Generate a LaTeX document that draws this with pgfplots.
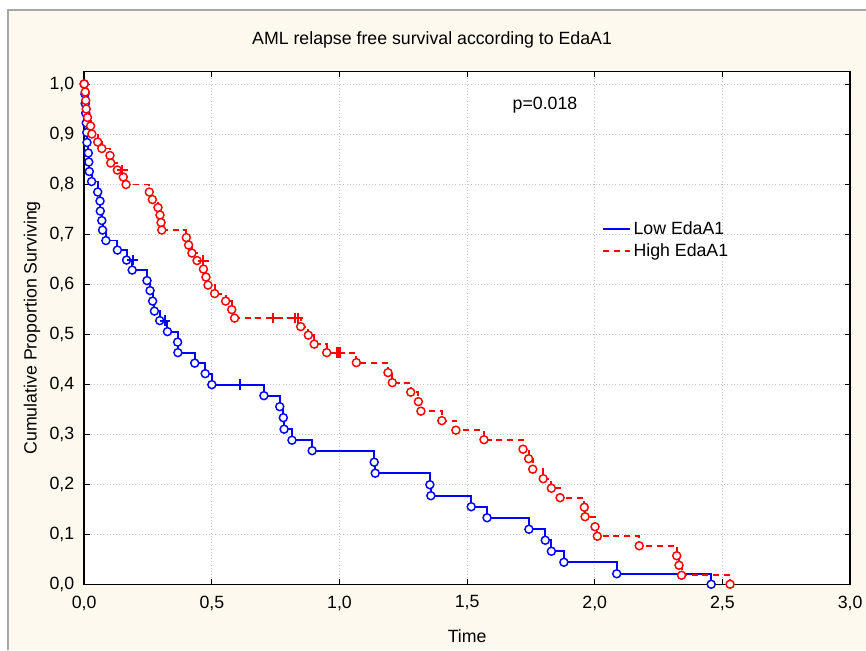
\documentclass[border=0pt]{standalone}
\usepackage{pgfplots}
\pgfplotsset{compat=1.18}
\usepackage{pgfplotstable}
\usepackage{fontspec}
\setmainfont{Liberation Sans}

\definecolor{bgcream}{RGB}{253,249,238}
\definecolor{gridgray}{RGB}{195,195,195}
\definecolor{kmblue}{RGB}{0,0,255}
\definecolor{kmred}{RGB}{255,0,0}
\newcommand\fs{\fontsize{13.3}{15}\selectfont}

% Low EdaA1: event times and survival after each event
\pgfplotstableread{
t s
0.000 1.000
0.003 0.980
0.004 0.961
0.006 0.942
0.008 0.922
0.010 0.903
0.011 0.883
0.016 0.862
0.018 0.844
0.020 0.825
0.029 0.805
0.053 0.784
0.062 0.766
0.063 0.746
0.069 0.727
0.072 0.708
0.085 0.687
0.130 0.668
0.166 0.648
0.188 0.628
0.246 0.607
0.258 0.587
0.268 0.566
0.275 0.546
0.296 0.527
0.326 0.505
0.366 0.484
0.367 0.463
0.433 0.442
0.474 0.421
0.500 0.399
0.704 0.377
0.766 0.355
0.780 0.333
0.783 0.310
0.814 0.288
0.893 0.267
1.136 0.244
1.140 0.222
1.354 0.199
1.358 0.177
1.516 0.155
1.578 0.133
1.742 0.110
1.806 0.088
1.830 0.066
1.879 0.044
2.086 0.021
2.456 0.000
}\lowtab

\pgfplotstableread{
t s
0.190 0.648
0.316 0.527
0.610 0.399
}\lowcens

% High EdaA1
\pgfplotstableread{
t s
0.000 1.000
0.004 0.984
0.006 0.967
0.008 0.950
0.013 0.933
0.025 0.916
0.030 0.900
0.053 0.884
0.069 0.871
0.101 0.857
0.104 0.842
0.130 0.828
0.153 0.814
0.164 0.799
0.255 0.784
0.267 0.769
0.289 0.753
0.297 0.738
0.301 0.723
0.304 0.708
0.400 0.693
0.409 0.678
0.422 0.662
0.442 0.647
0.467 0.630
0.477 0.614
0.485 0.598
0.511 0.581
0.554 0.566
0.578 0.549
0.589 0.532
0.848 0.515
0.878 0.498
0.901 0.480
0.950 0.463
1.066 0.443
1.190 0.423
1.207 0.403
1.279 0.384
1.309 0.365
1.319 0.346
1.401 0.327
1.456 0.308
1.566 0.289
1.719 0.270
1.741 0.251
1.757 0.230
1.798 0.211
1.830 0.192
1.864 0.173
1.959 0.154
1.962 0.135
2.001 0.115
2.010 0.096
2.174 0.077
2.321 0.057
2.330 0.038
2.340 0.018
2.530 0.000
}\hightab

\pgfplotstableread{
t s
0.149 0.828
0.467 0.647
0.738 0.532
0.826 0.532
0.836 0.532
0.990 0.463
1.000 0.463
}\highcens

\begin{document}
\begin{tikzpicture}
\fill[white] (-63.15pt,-49.3pt) rectangle (586.35pt,438.2pt);
\path[use as bounding box] (-63.15pt,-49.3pt) rectangle (586.35pt,438.2pt);
\fill[bgcream] (-57.15pt,-49.3pt) rectangle (586.35pt,430.7pt);
\draw[gray!70, line width=0.8pt] (-57.15pt,-49.3pt) -- (-57.15pt,430.7pt) -- (586.35pt,430.7pt);

\begin{axis}[
  at={(0,0)}, anchor=south west,
  scale only axis,
  width=574.4pt, height=384.6pt,
  xmin=0, xmax=3, ymin=0, ymax=1.025,
  xtick={0,0.5,...,3}, ytick={0,0.1,...,1.0},
  axis background/.style={fill=white},
  axis line style={black, line width=1.1pt},
  tick style={black, line width=0.7pt},
  major tick length=4pt,
  grid=major,
  grid style={gridgray, dotted, line width=0.6pt},
  /pgf/number format/.cd, use comma, fixed, fixed zerofill, precision=1, assume math mode=true,
  /pgfplots/.cd,
  tick label style={font=\fs},
  xticklabel style={yshift=-5pt},
  yticklabel style={xshift=-4pt},
  xlabel={Time}, ylabel={Cumulative Proportion Surviving},
  label style={font=\fs},
  xlabel style={yshift=-8pt},
  ylabel style={yshift=0pt},
  legend style={at={(rel axis cs:0.671,0.718)}, anchor=north west,
    draw=none, fill=none, font=\fs, row sep=1pt},
  legend cell align=left,
  legend image code/.code={\draw[#1] (0pt,0pt) -- (20pt,0pt);},
]
\addplot[kmblue, line width=1.4pt, const plot] table[x=t, y=s] {\lowtab};
\addlegendentry{Low EdaA1}
\addplot[kmred, line width=1.4pt, const plot, dash pattern=on 4.5pt off 3.5pt] table[x=t, y=s] {\hightab};
\addlegendentry{High EdaA1}

\addplot[forget plot, only marks, mark=*, mark size=3pt,
  mark options={draw=kmblue, fill=white, line width=1.1pt, solid}] table[x=t, y=s, skip first n=1] {\lowtab};
\addplot[forget plot, only marks, mark=*, mark size=3pt,
  mark options={draw=kmred, fill=white, line width=1.1pt, solid}] table[x=t, y=s, skip first n=1] {\hightab};
\addplot[forget plot, only marks, kmblue, mark=+, mark size=4pt,
  mark options={line width=1.6pt}] table[x=t, y=s] {\lowcens};
\addplot[forget plot, only marks, kmred, mark=+, mark size=4pt,
  mark options={line width=1.6pt}] table[x=t, y=s] {\highcens};

\node[font=\fs] at (axis cs:1.805,0.957) {p=0.018};
\end{axis}

\node[font=\fs] at (260.9pt,408.2pt) {AML relapse free survival according to EdaA1};
\end{tikzpicture}
\end{document}
